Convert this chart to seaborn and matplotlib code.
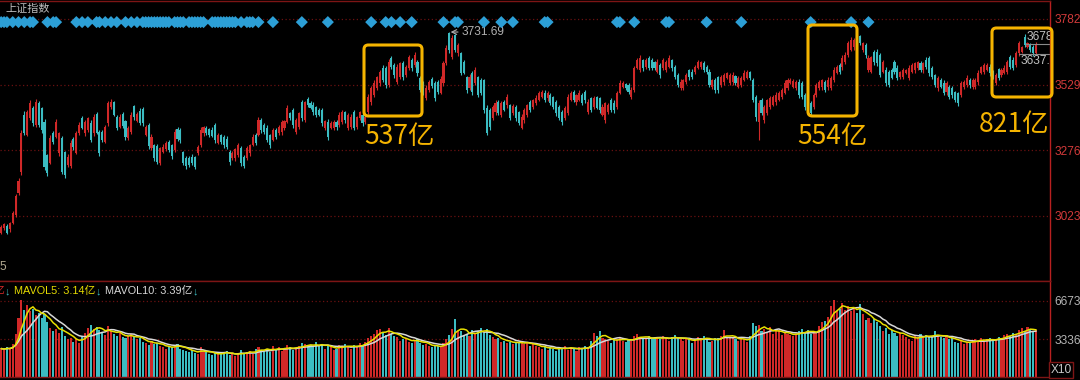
import numpy as np
import pandas as pd
import matplotlib
matplotlib.use("Agg")
import matplotlib.pyplot as plt
from matplotlib.patches import FancyBboxPatch
import seaborn as sns

# daily candles of the index
opens = [
    2957, 2976, 2984, 2972, 2995, 3026, 3111, 3192, 3412, 3335,
    3400, 3439, 3373, 3458, 3439, 3385, 3257, 3227, 3342, 3327,
    3265, 3323, 3269, 3219, 3215, 3319, 3265, 3342, 3400, 3342,
    3354, 3381, 3342, 3416, 3346, 3346, 3308, 3381, 3443, 3462,
    3404, 3365, 3416, 3389, 3323, 3346, 3446, 3389, 3427, 3435,
    3335, 3373, 3284, 3296, 3292, 3227, 3269, 3281, 3308, 3296,
    3277, 3358, 3354, 3269, 3246, 3246, 3250, 3250, 3265, 3296,
    3342, 3362, 3358, 3354, 3373, 3304, 3335, 3327, 3319, 3269,
    3246, 3246, 3257, 3284, 3250, 3246, 3265, 3296, 3335, 3335,
    3392, 3373, 3362, 3335, 3315, 3354, 3342, 3346, 3362, 3385,
    3419, 3431, 3346, 3365, 3462, 3392, 3473, 3458, 3450, 3443,
    3431, 3431, 3362, 3385, 3362, 3362, 3385, 3373, 3385, 3423,
    3362, 3365, 3423, 3365, 3400, 3412, 3385, 3423, 3462, 3489,
    3516, 3535, 3593, 3593, 3527, 3632, 3605, 3539, 3558, 3612,
    3566, 3593, 3624, 3605, 3616, 3555, 3539, 3477, 3508, 3551,
    3535, 3539, 3497, 3535, 3612, 3728, 3635, 3720, 3651, 3651,
    3616, 3558, 3516, 3574, 3535, 3558, 3547, 3547, 3439, 3431,
    3400, 3423, 3462, 3412, 3462, 3450, 3450, 3419, 3443,
    3423, 3362, 3392, 3412, 3462, 3443, 3458, 3470, 3481,
    3497, 3477, 3489, 3481, 3462, 3443, 3423, 3400, 3419,
    3470, 3500, 3462, 3470, 3489, 3500, 3423, 3477, 3443, 3481,
    3477, 3412, 3392, 3423, 3470, 3458, 3443, 3497, 3520,
    3531, 3527, 3481, 3508, 3593, 3585, 3624, 3597, 3632,
    3624, 3616, 3578, 3605, 3593, 3585, 3597, 3624, 3597,
    3566, 3516, 3516, 3539, 3585, 3578, 3578, 3593, 3597,
    3612, 3597, 3578, 3520, 3547, 3558, 3527, 3539, 3555,
    3535, 3539, 3562, 3520, 3527, 3547, 3555, 3578, 3547,
    3481, 3385, 3470, 3392, 3419, 3443, 3450, 3462, 3470, 3481,
    3497, 3516, 3535, 3520, 3516, 3539, 3535, 3489, 3481,
    3458, 3443, 3489, 3516, 3520, 3539, 3520, 3516, 3547,
    3574, 3605, 3597, 3616, 3643, 3662, 3674, 3720, 3716, 3662,
    3682, 3585, 3578, 3655, 3655, 3643, 3578, 3585, 3578, 3585,
    3616, 3593, 3558, 3558, 3574, 3555, 3578, 3585, 3593,
    3612, 3585, 3624, 3632, 3593, 3566, 3516, 3547, 3535, 3500,
    3520, 3516, 3500, 3497, 3489, 3520, 3527, 3547, 3520,
    3520, 3539, 3574, 3578, 3585, 3597, 3578, 3535, 3589,
    3566, 3574, 3578, 3635, 3624, 3605, 3651, 3655, 3713, 3674,
    3682, 3674, 3651,
]
closes = [
    2980, 2991, 2957, 2995, 3034, 3099, 3157, 3342, 3342, 3423,
    3458, 3381, 3462, 3373, 3354, 3211, 3188, 3323, 3308, 3385,
    3342, 3192, 3180, 3250, 3304, 3288, 3342, 3373, 3362, 3385,
    3400, 3315, 3404, 3342, 3265, 3315, 3365, 3458, 3462, 3412,
    3362, 3404, 3369, 3327, 3362, 3412, 3404, 3416, 3381, 3381,
    3365, 3292, 3327, 3246, 3230, 3284, 3288, 3304, 3277, 3254,
    3346, 3319, 3315, 3227, 3215, 3219, 3227, 3211, 3288, 3354,
    3365, 3342, 3335, 3331, 3315, 3335, 3308, 3296, 3288, 3230,
    3265, 3281, 3296, 3227, 3215, 3284, 3296, 3327, 3304, 3392,
    3354, 3346, 3315, 3296, 3354, 3327, 3365, 3385, 3389, 3439,
    3400, 3373, 3392, 3419, 3400, 3462, 3450, 3439, 3423, 3412,
    3412, 3381, 3389, 3327, 3381, 3385, 3365, 3412, 3423, 3392,
    3412, 3404, 3362, 3404, 3423, 3381, 3404, 3481, 3516, 3535,
    3558, 3578, 3547, 3527, 3616, 3597, 3566, 3597, 3612, 3558,
    3597, 3635, 3593, 3643, 3574, 3508, 3497, 3516, 3539, 3524,
    3477, 3500, 3551, 3612, 3670, 3662, 3709, 3662, 3682, 3574,
    3574, 3508, 3558, 3500, 3585, 3489, 3497, 3431, 3342, 3365,
    3443, 3458, 3419, 3458, 3431, 3481, 3400, 3446, 3400,
    3381, 3404, 3431, 3450, 3431, 3470, 3477, 3497, 3500,
    3470, 3497, 3458, 3443, 3419, 3400, 3385, 3439, 3481,
    3497, 3470, 3489, 3497, 3458, 3470, 3462, 3431, 3477, 3439,
    3431, 3443, 3458, 3450, 3431, 3431, 3497, 3535, 3535,
    3516, 3500, 3508, 3593, 3624, 3632, 3593, 3624, 3593,
    3593, 3593, 3616, 3566, 3624, 3616, 3632, 3593, 3558,
    3527, 3539, 3547, 3566, 3558, 3558, 3597, 3616, 3616,
    3585, 3578, 3527, 3547, 3508, 3508, 3558, 3566, 3574,
    3566, 3566, 3535, 3555, 3555, 3574, 3578, 3555, 3470,
    3404, 3458, 3419, 3443, 3470, 3477, 3481, 3489, 3497, 3508,
    3535, 3547, 3547, 3543, 3539, 3489, 3481, 3443, 3443,
    3419, 3489, 3527, 3539, 3547, 3508, 3547, 3555, 3585,
    3597, 3578, 3632, 3643, 3689, 3701, 3701, 3674, 3689, 3689,
    3643, 3632, 3635, 3616, 3612, 3566, 3616, 3535, 3527, 3555,
    3578, 3555, 3578, 3585, 3585, 3593, 3605, 3612, 3616,
    3585, 3612, 3597, 3574, 3558, 3527, 3555, 3520, 3497, 3535,
    3481, 3489, 3470, 3458, 3535, 3539, 3555, 3527, 3547,
    3547, 3574, 3597, 3605, 3605, 3574, 3558, 3566, 3555,
    3585, 3593, 3616, 3597, 3593, 3651, 3689, 3674, 3682, 3689,
    3662, 3651, 3682,
]
upper_wick = [
    6, 4, 8, 5, 6, 8, 10, 12, 14, 8,
    10, 6, 12, 8, 5, 10, 6, 12, 8, 10,
    6, 8, 5, 10, 12, 6, 8, 10, 6, 8,
    5, 10, 12, 6, 8, 6, 10, 8, 12, 5,
    8, 10, 6, 5, 8, 12, 6, 8, 10, 6,
    8, 6, 10, 5, 8, 6, 10, 8, 6, 5,
    10, 8, 6, 5, 8, 6, 10, 5, 8, 12,
    6, 8, 5, 10, 6, 8, 5, 6, 10, 8,
    6, 5, 8, 10, 6, 8, 5, 10, 6, 12,
    8, 6, 10, 5, 8, 6, 10, 8, 5, 12,
    6, 8, 10, 6, 8, 5, 8, 6, 10, 5,
    8, 6, 5, 10, 6, 8, 6, 10, 8, 5,
    6, 10, 8, 5, 6, 8, 5, 10, 8, 12,
    6, 8, 10, 6, 12, 8, 6, 10, 5, 8,
    6, 10, 8, 12, 6, 8, 5, 10, 8, 6,
    8, 6, 10, 8, 12, 4, 10, 6, 8, 5,
    8, 6, 10, 8, 12, 6, 8, 5, 10, 6,
    8, 10, 6, 8, 6, 10, 5, 8, 6,
    6, 10, 8, 5, 8, 5, 10, 6, 8,
    10, 6, 8, 5, 8, 6, 8, 6, 12,
    6, 8, 5, 10, 6, 8, 12, 6, 8, 5,
    6, 10, 5, 8, 6, 10, 8, 12, 6,
    5, 8, 10, 8, 6, 10, 5, 8, 6,
    6, 5, 10, 6, 8, 6, 10, 5, 8,
    6, 10, 5, 8, 6, 10, 8, 6, 5,
    8, 6, 10, 5, 8, 6, 8, 6, 5,
    8, 10, 5, 6, 8, 10, 6, 5, 8,
    6, 10, 8, 6, 5, 8, 6, 10, 8, 6,
    10, 8, 6, 8, 6, 10, 8, 6, 12,
    6, 8, 10, 6, 5, 6, 10, 8, 12,
    6, 8, 10, 12, 8, 10, 6, 6, 5, 6,
    8, 10, 6, 8, 12, 6, 8, 10, 6, 8,
    6, 10, 5, 8, 6, 10, 8, 6, 5,
    8, 6, 10, 8, 6, 5, 8, 6, 10, 8,
    6, 8, 6, 5, 8, 6, 10, 8, 6,
    6, 10, 5, 8, 6, 10, 8, 6, 5,
    8, 10, 6, 8, 10, 6, 8, 5, 12, 6,
    8, 6, 10,
]
lower_wick = [
    5, 8, 6, 10, 4, 8, 6, 10, 8, 6,
    8, 10, 6, 8, 12, 12, 10, 6, 8, 5,
    10, 8, 12, 6, 8, 10, 5, 8, 6, 10,
    8, 6, 10, 5, 12, 8, 6, 10, 8, 6,
    10, 5, 8, 12, 6, 8, 10, 6, 8, 10,
    6, 12, 8, 10, 6, 8, 5, 10, 8, 12,
    8, 6, 10, 8, 12, 6, 10, 8, 6, 8,
    10, 6, 8, 5, 10, 6, 8, 10, 6, 12,
    8, 10, 6, 12, 8, 6, 10, 5, 8, 6,
    10, 8, 6, 12, 5, 8, 6, 10, 8, 6,
    8, 12, 6, 8, 10, 6, 8, 5, 10, 8,
    6, 10, 8, 12, 6, 8, 10, 6, 8, 10,
    8, 6, 10, 8, 6, 12, 8, 6, 10, 8,
    6, 10, 8, 12, 6, 8, 10, 6, 8, 12,
    8, 6, 10, 8, 12, 6, 10, 8, 6, 8,
    10, 8, 6, 12, 8, 10, 8, 6, 10, 8,
    6, 10, 8, 12, 6, 8, 10, 12, 8, 10,
    6, 10, 6, 8, 5, 10, 8, 6, 10,
    8, 6, 10, 8, 6, 10, 8, 6, 5,
    8, 10, 6, 8, 10, 6, 12, 6, 8,
    6, 8, 10, 6, 8, 12, 6, 8, 10, 6,
    10, 6, 12, 8, 6, 10, 8, 6, 5,
    8, 6, 8, 6, 5, 8, 10, 6, 8,
    6, 8, 5, 10, 6, 8, 5, 10, 8,
    6, 8, 6, 8, 10, 6, 8, 5, 6,
    8, 10, 6, 8, 10, 12, 6, 10, 6,
    8, 10, 8, 6, 8, 5, 6, 10, 8,
    15, 70, 8, 10, 6, 8, 5, 10, 6, 8,
    6, 8, 5, 6, 8, 10, 6, 12, 8,
    10, 8, 6, 8, 10, 8, 10, 6, 8,
    6, 8, 10, 6, 8, 5, 10, 8, 6, 8,
    10, 8, 6, 10, 12, 8, 6, 10, 8, 6,
    8, 10, 8, 6, 5, 8, 6, 10, 8,
    6, 10, 8, 12, 6, 8, 10, 6, 8, 10,
    8, 10, 8, 12, 6, 8, 6, 10, 8,
    8, 10, 6, 8, 5, 10, 8, 6, 10,
    8, 6, 10, 8, 6, 8, 10, 6, 8, 5,
    8, 10, 6,
]
# volume, axis units (x10)
volumes = [
    2500, 2400, 2600, 2500, 2900, 3800, 5200, 6800, 5900, 6300,
    5800, 6000, 5400, 5600, 5200, 5500, 4800, 4300, 4000, 4200,
    3900, 4400, 3600, 3300, 3400, 3100, 3300, 3000, 3500, 3900,
    4300, 4600, 4200, 4400, 4100, 3900, 3700, 4500, 4000, 3800,
    3600, 3900, 3500, 3400, 3600, 3800, 3500, 3300, 3400, 3100,
    3000, 2800, 3200, 2900, 3000, 2700, 2600, 2500, 2700, 2600,
    2800, 2900, 2500, 2400, 2300, 2200, 2400, 2100, 2000, 2600,
    2300, 2200, 2000, 1900, 2100, 2000, 2200, 2100, 2300, 1900,
    2000, 1800, 2100, 2400, 2000, 2200, 2300, 2000, 2500, 2600,
    2400, 2300, 2500, 2200, 2700, 2400, 2600, 2300, 2500, 2800,
    2600, 2400, 2500, 2700, 3000, 2900, 2700, 2800, 2600, 3100,
    2800, 2900, 2500, 2700, 2600, 2400, 2500, 2800, 2700, 2900,
    2600, 2500, 2800, 2700, 3000, 2800, 3100, 3400, 3600, 3800,
    4100, 4200, 3900, 3700, 4300, 3800, 3600, 3500, 3200, 3300,
    3400, 3100, 3000, 3200, 3300, 3000, 2800, 2900, 2700, 2600,
    2800, 2700, 2600, 3000, 3300, 3700, 4200, 5100, 4000, 4000,
    3700, 3800, 3600, 4100, 3900, 4000, 4300, 3900, 4200, 3700,
    3500, 3300, 3400, 3100, 3200, 3000, 3100, 2900, 3000,
    3100, 3000, 2900, 3100, 2700, 2900, 2700, 2600, 2500,
    2700, 2400, 2600, 2500, 2300, 2600, 2500, 2700, 2400,
    2600, 2500, 2300, 2600, 2500, 2700, 2600, 3200, 3900, 3600,
    4000, 3400, 3300, 3200, 3000, 3400, 3300, 3500, 3200,
    3100, 3300, 3200, 3600, 3800, 3500, 3400, 3300, 3600,
    3300, 3400, 3500, 3300, 3600, 3400, 3200, 3500, 3700,
    3400, 3300, 3200, 3400, 3300, 3000, 3200, 3500, 3400,
    3600, 3300, 3100, 3200, 3400, 3400, 3600, 4100, 3500,
    3400, 3500, 3300, 3200, 3400, 3300, 3100, 3600, 4700,
    4500, 4600, 4000, 4200, 3900, 4400, 3800, 4000, 4100, 3700,
    3900, 3800, 3700, 3600, 3800, 4000, 4200, 3900, 4100,
    3800, 4000, 3900, 4500, 4800, 4900, 5300, 6200, 6760,
    5800, 6000, 6500, 5900, 6200, 5800, 6100, 5600, 6400, 5500,
    5000, 5200, 4700, 5100, 4800, 4500, 4000, 4300, 3800, 4100,
    3900, 3600, 3900, 3700, 3500, 3300, 3200, 3600, 3500,
    3800, 3400, 3700, 3500, 3600, 4000, 3600, 3500, 3400, 3600,
    3300, 3400, 3100, 3000, 3200, 2900, 3100, 3000, 3200,
    3300, 3200, 3400, 3100, 3300, 3400, 3200, 3300, 3500,
    3400, 3700, 3800, 3600, 3900, 3700, 4100, 4300, 4000, 4400,
    4200, 4000, 4100,
]
# candles carrying a signal diamond
signal_idx = [0, 1, 2, 4, 6, 8, 10, 11, 16, 18, 19, 26, 28, 30, 33, 34, 36, 38, 40,
              43, 45, 47, 49, 50, 51, 52, 53, 54, 55, 56, 57, 58, 60, 61, 62, 63,
              65, 66, 67, 68, 69, 70, 73, 74, 75, 76, 77, 78, 79, 80, 81,
              83, 85, 86, 87, 89, 94, 104, 113, 128, 133, 135, 138, 142, 153, 157,
              158, 167, 173, 177, 188, 189, 213, 214, 219, 230, 231, 244, 256, 280,
              294, 300]

price_ticks = [3023, 3276, 3529, 3782]
vol_ticks = [3336, 6673]
peak_idx, peak_price = 155, 3731.69
range_marks = ["3678", "3637."]
box_labels = ["537亿", "554亿", "821亿"]

W, H = 1080, 380
RED = "#d02828"
CYAN = "#3bbcc2"
GOLD = "#f5b400"
GRID = "#6a1010"
FRAME = "#7d1515"

sns.set_theme(style="dark", rc={"axes.facecolor": "black", "figure.facecolor": "black"})
plt.rcParams["font.family"] = ["Liberation Sans", "Noto Sans CJK SC", "DejaVu Sans"]

df = pd.DataFrame({"open": opens, "close": closes, "up": upper_wick,
                   "dn": lower_wick, "vol": volumes})
df["i"] = np.arange(len(df))
df["top"] = df[["open", "close"]].max(axis=1)
df["bot"] = df[["open", "close"]].min(axis=1)
df["high"] = df["top"] + df["up"]
df["low"] = df["bot"] - df["dn"]
df["color"] = np.where(df["close"] >= df["open"], RED, CYAN)
df["ma5"] = df["vol"].rolling(5, min_periods=1).mean()
df["ma10"] = df["vol"].rolling(10, min_periods=1).mean()

step = 1035 / (len(df) - 1)        # pixels per candle
xlim = (-0.4, -0.4 + 1050 / step)


def fx(px):
    return px / W


def fy(py):
    return 1 - py / H


fig = plt.figure(figsize=(W / 100, H / 100), dpi=100)
ax = fig.add_axes([0, fy(281), fx(1050), 280 / H])
axv = fig.add_axes([0, fy(377), fx(1050), 96 / H])

# price panel
ax.vlines(df["i"], df["low"], df["high"], colors=df["color"], lw=0.8)
ax.bar(df["i"], df["top"] - df["bot"], bottom=df["bot"], width=0.72,
       color=df["color"], linewidth=0)
sns.scatterplot(x=signal_idx, y=[3770] * len(signal_idx), marker="D", s=38,
                color="#2c9fd6", edgecolor="none", ax=ax, legend=False, zorder=5)
ax.set_xlim(*xlim)
ax.set_ylim(2771.5, 3851.4)
ax.set_xticks([])
ax.set_yticks(price_ticks)
ax.yaxis.tick_right()
ax.tick_params(axis="y", length=0, pad=3, labelsize=8.6, labelcolor="#d23a3a")
ax.yaxis.grid(True, color=GRID, ls=(0, (1, 2)), lw=0.9)
ax.xaxis.grid(False)

ax.annotate(f"{peak_price:.2f}", xy=(peak_idx, peak_price), xytext=(12, 0),
            textcoords="offset pixels", va="center", ha="left", fontsize=8.6,
            color="#b0b0b0",
            arrowprops=dict(arrowstyle="->", color="#b0b0b0", lw=0.8,
                            shrinkA=0, shrinkB=1))

# range marks at the right edge
ax.text(1027 / 1050, (281 - 37) / 280, range_marks[0], transform=ax.transAxes,
        va="center", ha="left", fontsize=8.6, color="#c0c0c0", clip_on=True)
ax.text(1021 / 1050, (281 - 61) / 280, range_marks[1], transform=ax.transAxes,
        va="center", ha="left", fontsize=8.6, color="#c0c0c0", clip_on=True)
ax.plot([1026 / 1050, 1], [(281 - 44) / 280] * 2, transform=ax.transAxes,
        color="#8a8a8a", lw=0.8)
ax.plot([1019 / 1050, 1], [(281 - 54) / 280] * 2, transform=ax.transAxes,
        color="#8a8a8a", lw=0.8)

# volume panel
axv.bar(df["i"], df["vol"], width=0.72, color=df["color"], linewidth=0)
sns.lineplot(data=df, x="i", y="ma10", ax=axv, color="#d8d8d8", lw=1.1, legend=False)
sns.lineplot(data=df, x="i", y="ma5", ax=axv, color="#e8e000", lw=1.1, legend=False)
axv.set_xlim(*xlim)
axv.set_ylim(0, 8429)
axv.set_xticks([])
axv.set_yticks(vol_ticks)
axv.yaxis.tick_right()
axv.tick_params(axis="y", length=0, pad=3, labelsize=8.6, labelcolor="#b4b4b4")
axv.yaxis.grid(True, color=GRID, ls=(0, (1, 2)), lw=0.9)
axv.xaxis.grid(False)
axv.set_xlabel("")
axv.set_ylabel("")

for a in (ax, axv):
    a.spines["left"].set_visible(False)
    a.spines["right"].set_color("#b82020")
    a.spines["right"].set_linewidth(1)
    a.spines["top"].set_color(FRAME)
    a.spines["bottom"].set_color(FRAME)
    a.spines["top"].set_linewidth(1)
    a.spines["bottom"].set_linewidth(1)

# highlight boxes and their turnover labels
boxes = [(364, 45, 422, 116), (808, 25, 857, 116), (992, 28, 1052, 97)]
label_pos = [(364, 136), (797, 136), (979, 125)]
for (x0, y0, x1, y1), (lx, ly), txt in zip(boxes, label_pos, box_labels):
    fig.patches.append(FancyBboxPatch(
        (fx(x0), fy(y1)), (x1 - x0) / W, (y1 - y0) / H,
        boxstyle="round,pad=0,rounding_size=0.004", mutation_aspect=W / H,
        transform=fig.transFigure, fill=False, edgecolor=GOLD, lw=2.2, zorder=10))
    fig.text(fx(lx), fy(ly), txt, color=GOLD, fontsize=19, va="center", ha="left",
             family=["Noto Sans CJK SC", "DejaVu Sans"])

# header texts
fig.text(fx(5), fy(9), "上证指数", color="#bdbdbd", fontsize=8, va="center")
fig.text(fx(0), fy(267), "5", color="#b0a890", fontsize=8.6, va="center")

hdr = [("亿", RED), ("↓", CYAN), ("MAVOL5: 3.14亿", "#e6dc00"), ("↓", CYAN),
       ("MAVOL10: 3.39亿", "#d8d8d8"), ("↓", CYAN)]
prev = fig.text(fx(-6), fy(291), hdr[0][0], color=hdr[0][1], fontsize=7.8,
                va="center", ha="left")
for t, c in hdr[1:]:
    gap = 4 if t[0] == "M" else 0
    prev = axv.annotate(t, xy=(1, 0.5), xycoords=prev, xytext=(gap, 0),
                        textcoords="offset pixels", color=c, fontsize=7.8,
                        va="center", ha="left", annotation_clip=False)

fig.text(fx(1061), fy(370), "X10", color="#c8c8c8", fontsize=8.6, va="center",
         ha="center", bbox=dict(boxstyle="square,pad=0.15", fc="black", ec=FRAME, lw=1))

fig.savefig("out.png", dpi=100, facecolor="black")
